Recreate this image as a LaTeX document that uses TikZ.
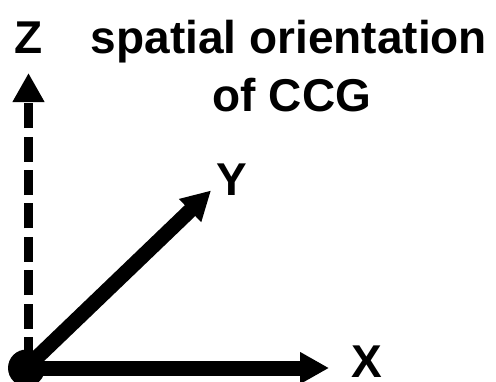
\documentclass[tikz,border=0pt]{standalone}
\usepackage{fontspec}
\setmainfont{Liberation Sans}
\usetikzlibrary{arrows.meta}
\begin{document}
\begin{tikzpicture}[x=1pt,y=-1pt,
  lbl/.style={font=\fontsize{46}{56}\selectfont\bfseries, inner sep=0pt, anchor=base},
  axis/.style={line width=15pt, -{Triangle[length=29pt,width=30pt]}},
  zaxis/.style={line width=9pt, dash pattern=on 25pt off 8.4pt, dash phase=27.4pt, -{Triangle[length=29pt,width=30pt]}}]
\useasboundingbox (0,0) rectangle (496,381);
\coordinate (xend) at (329,368);
\coordinate (yend) at (211,190.5);
\coordinate (zend) at (28.5,73);
\coordinate (zstart) at (28.5,368);
\draw[axis] (26,368) -- (xend);
\draw[axis] (26,368) -- (yend);
\draw[zaxis] (zstart) -- (zend);
\node[circle, fill=black, inner sep=0pt, minimum size=37pt] (o) at (26.5,368) {};
\node[lbl] (zl) at (28.5,53) {Z};
\node[lbl] (yl) at (231.5,195) {Y};
\node[lbl] (xl) at (366.5,377) {X};
\node[lbl] (t1) at (289,53) {spatial orientation};
\node[lbl] (t2) at (292,111) {of CCG};
\end{tikzpicture}
\end{document}
